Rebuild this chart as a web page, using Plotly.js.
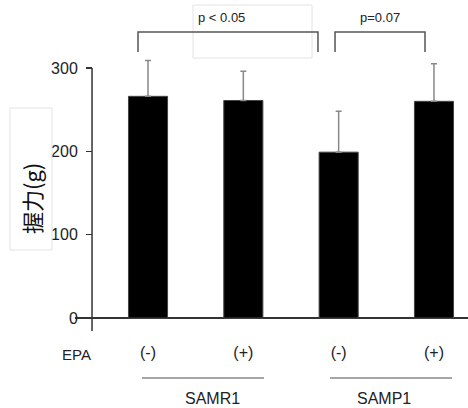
<!DOCTYPE html>
<html>
<head>
<meta charset="utf-8">
<script src="https://cdn.plot.ly/plotly-3.0.1.min.js"></script>
<style>html,body{margin:0;padding:0;background:#fff;}</style>
</head>
<body>
<div id="chart" style="width:468px;height:408px;"></div>
<script>
const positions = [0, 1, 2, 3];
const epaLabels = ['(-)', '(+)', '(-)', '(+)'];
const means = [266, 261, 199, 260];
const errors = [43, 35, 49, 45];
const yTicks = [0, 100, 200, 300];
const groupNames = ['SAMR1', 'SAMP1'];
const pTexts = ['p < 0.05', 'p=0.07'];

const font = 'Liberation Sans, Arial, sans-serif';
const bracketColor = '#555';
const T = 55, H = 276; // plot top and height in px
const py = p => (T + H - p) / H; // pixel row -> paper y

const trace = {
  type: 'bar',
  x: positions,
  y: means,
  width: 0.41,
  cliponaxis: false,
  marker: {color: '#000', line: {color: '#444', width: 1}},
  error_y: {
    type: 'data', symmetric: false, array: errors,
    arrayminus: errors.map(() => 0),
    color: '#888', thickness: 1.5, width: 3
  },
  hoverinfo: 'none'
};

function bracket(x0, x1, yTop, yEnd) {
  return {type: 'path', xref: 'x', yref: 'paper',
    path: `M ${x0},${yEnd} L ${x0},${yTop} L ${x1},${yTop} L ${x1},${yEnd}`,
    line: {color: bracketColor, width: 1.5}};
}

function label(text, xref, x, y, size, extra) {
  return Object.assign({text: text, xref: xref, yref: 'paper', x: x, y: y, showarrow: false,
    xanchor: 'center', yanchor: 'middle', font: {size: size, family: font, color: '#222'}}, extra || {});
}

const axisPos = 0.0433;

const layout = {
  width: 468, height: 408,
  margin: {l: 75, r: 0, t: T, b: 408 - T - H},
  paper_bgcolor: '#fff', plot_bgcolor: 'rgba(0,0,0,0)',
  showlegend: false,
  font: {family: font, color: '#222'},
  xaxis: {
    range: [-0.766, 3.357],
    tickvals: positions, ticktext: epaLabels,
    ticks: '', showline: false, showgrid: false, zeroline: false,
    tickfont: {size: 16, family: font, color: '#222'},
    ticklabelstandoff: 10
  },
  yaxis: {
    range: [-15.6, 315.6],
    anchor: 'free', position: axisPos,
    tickvals: yTicks,
    showline: false,
    ticks: 'outside', ticklen: 6, tickcolor: '#333', tickwidth: 1.2,
    ticklabelstandoff: 5,
    showgrid: false,
    zeroline: true, zerolinecolor: '#333', zerolinewidth: 1.5,
    tickfont: {size: 16, family: font, color: '#222'}
  },
  shapes: [
    // y axis line, stops at the top tick
    {type: 'line', xref: 'paper', yref: 'y', x0: axisPos, x1: axisPos, y0: -15.6, y1: yTicks[yTicks.length - 1],
      line: {color: '#333', width: 1.5}},
    {type: 'rect', xref: 'paper', yref: 'paper', x0: (193-75)/393, x1: (312-75)/393, y0: py(58), y1: py(5),
      line: {color: '#e2e2e2', width: 1}},
    {type: 'rect', xref: 'paper', yref: 'paper', x0: (10-75)/393, x1: (52-75)/393, y0: py(250), y1: py(108),
      line: {color: '#e2e2e2', width: 1}},
    bracket(-0.105, 1.783, py(32), py(52)),
    bracket(1.962, 2.906, py(32), py(52)),
    {type: 'line', xref: 'x', yref: 'paper', x0: -0.063, x1: 1.217, y0: py(378), y1: py(378), line: {color: '#888', width: 1.5}},
    {type: 'line', xref: 'x', yref: 'paper', x0: 1.909, x1: 3.189, y0: py(378), y1: py(378), line: {color: '#888', width: 1.5}}
  ],
  annotations: [
    label(pTexts[0], 'x', 0.776, py(17), 13),
    label(pTexts[1], 'x', 2.434, py(17), 13),
    label('EPA', 'x', -0.755, py(354), 15),
    label(groupNames[0], 'x', 0.677, py(398), 16),
    label(groupNames[1], 'x', 2.48, py(398), 16),
    label('握力(g)', 'paper', (31-75)/393, py(199), 22,
      {textangle: -90, font: {size: 22, family: 'Noto Sans CJK JP, sans-serif', color: '#111'}})
  ]
};

Plotly.newPlot('chart', [trace], layout, {staticPlot: true, displayModeBar: false});
</script>
</body>
</html>
